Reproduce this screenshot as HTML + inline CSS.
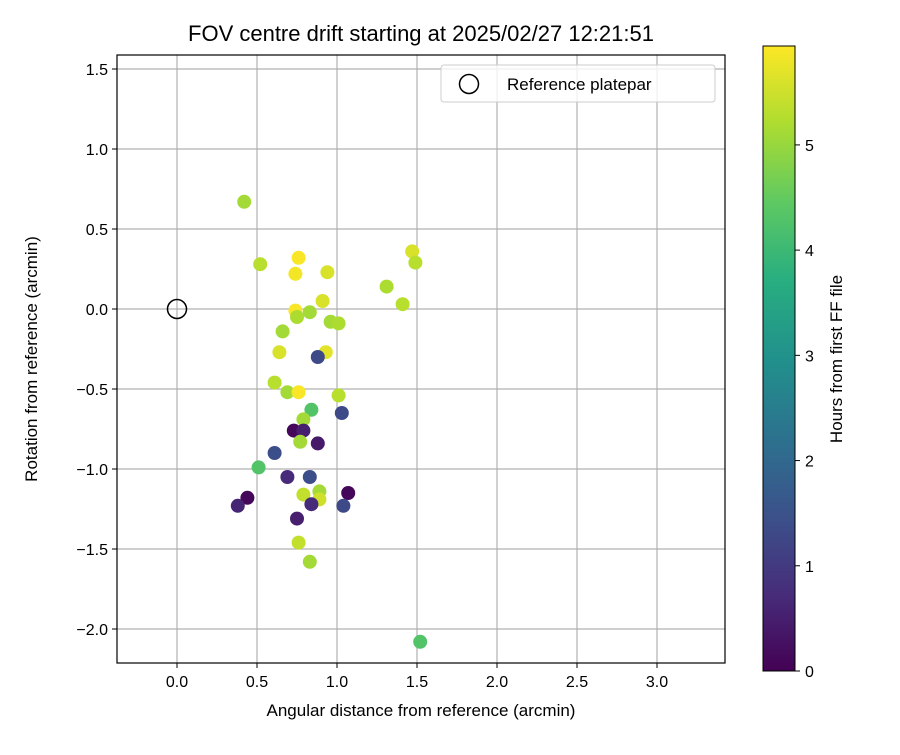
<!DOCTYPE html>
<html><head><meta charset="utf-8"><style>body{margin:0;background:#fff}svg{font-family:"Liberation Sans","DejaVu Sans",sans-serif}</style></head>
<body>
<svg id="chart" width="900" height="750" viewBox="0 0 900 750" xmlns="http://www.w3.org/2000/svg">
<defs>
<linearGradient id="vir" x1="0" y1="1" x2="0" y2="0">
<stop offset="0" stop-color="#440154"/><stop offset="0.125" stop-color="#472d7b"/><stop offset="0.25" stop-color="#3b528b"/><stop offset="0.375" stop-color="#2c728e"/><stop offset="0.5" stop-color="#21918c"/><stop offset="0.625" stop-color="#28ae80"/><stop offset="0.75" stop-color="#5ec962"/><stop offset="0.875" stop-color="#addc30"/><stop offset="1" stop-color="#fde725"/>
</linearGradient>
</defs>
<text x="421" y="41" font-size="22" text-anchor="middle">FOV centre drift starting at 2025/02/27 12:21:51</text>
<g id="grid"></g>
<g id="xticks"></g>
<g id="yticks"></g>
<g id="points"></g>
<circle id="refpt" r="9.5" fill="none" stroke="#000" stroke-width="1.5"/>
<rect x="117" y="55" width="608" height="608" fill="none" stroke="#000" stroke-width="1.2"/>
<text x="421" y="716" font-size="17" text-anchor="middle">Angular distance from reference (arcmin)</text>
<text transform="translate(37,359) rotate(-90)" font-size="17" text-anchor="middle">Rotation from reference (arcmin)</text>
<g>
<rect x="441" y="65" width="274" height="37" rx="3" fill="#fff" fill-opacity="0.8" stroke="#ccc"/>
<circle cx="469" cy="84" r="9.5" fill="none" stroke="#000" stroke-width="1.5"/>
<text x="507" y="90" font-size="17">Reference platepar</text>
</g>
<g>
<rect x="763" y="46" width="32" height="625" fill="url(#vir)" stroke="#000" stroke-width="1"/>
<g id="cbticks"></g>
<text transform="translate(842,359) rotate(-90)" font-size="17" text-anchor="middle">Hours from first FF file</text>
</g>
</svg>
<script>
const xTicks=[0.0,0.5,1.0,1.5,2.0,2.5,3.0];
const yTicks=[1.5,1.0,0.5,0.0,-0.5,-1.0,-1.5,-2.0];
const cbTicks=[0,1,2,3,4,5];
const xVals=[0.42,0.52,0.76,0.74,0.94,0.91,0.74,0.75,0.83,0.96,1.01,0.66,0.64,0.93,0.88,0.61,0.69,0.76,1.01,0.84,1.03,0.79,0.73,0.79,0.77,0.88,0.61,0.51,0.69,0.83,0.44,0.38,0.79,0.89,0.89,0.84,1.07,1.04,0.75,0.76,0.83,1.52,1.31,1.47,1.49,1.41];
const yVals=[0.67,0.28,0.32,0.22,0.23,0.05,-0.01,-0.05,-0.02,-0.08,-0.09,-0.14,-0.27,-0.27,-0.30,-0.46,-0.52,-0.52,-0.54,-0.63,-0.65,-0.69,-0.76,-0.76,-0.83,-0.84,-0.90,-0.99,-1.05,-1.05,-1.18,-1.23,-1.16,-1.14,-1.19,-1.22,-1.15,-1.23,-1.31,-1.46,-1.58,-2.08,0.14,0.36,0.29,0.03];
const hours=[5.1,5.3,5.9,5.85,5.6,5.6,5.9,5.2,5.1,5.1,5.2,5.1,5.6,5.7,1.3,5.3,5.1,5.9,5.3,4.3,1.3,5.1,0.1,0.5,5.1,0.4,1.4,4.3,0.7,1.4,0.1,0.6,5.4,5.1,5.5,0.7,0.1,1.3,0.5,5.4,5.1,4.3,5.2,5.6,5.3,5.3];
const X0=117,X1=725,Y0=55,Y1=663,xmin=-0.375,xmax=3.425,ymin=-2.2125,ymax=1.5875,hmax=5.94;
const sx=v=>X0+(v-xmin)/(xmax-xmin)*(X1-X0);
const sy=v=>Y1-(v-ymin)/(ymax-ymin)*(Y1-Y0);
const cy=h=>671-h/hmax*625;
const vir=["#440154","#472d7b","#3b528b","#2c728e","#21918c","#28ae80","#5ec962","#addc30","#fde725"];
function col(t){t=Math.max(0,Math.min(1,t))*8;const i=Math.min(7,Math.floor(t)),f=t-i;const a=vir[i],b=vir[i+1];
const c=k=>Math.round(parseInt(a.substr(k,2),16)*(1-f)+parseInt(b.substr(k,2),16)*f);return `rgb(${c(1)},${c(3)},${c(5)})`;}
const NS="http://www.w3.org/2000/svg";
function mk(t,at,p){const e=document.createElementNS(NS,t);for(const k in at)e.setAttribute(k,at[k]);p.appendChild(e);return e;}
const g=document.getElementById('grid'),gx=document.getElementById('xticks'),gy=document.getElementById('yticks'),gp=document.getElementById('points'),gc=document.getElementById('cbticks');
xTicks.forEach(v=>{const x=sx(v);
mk('line',{x1:x,x2:x,y1:Y0,y2:Y1,stroke:'#b0b0b0','stroke-width':1.2},g);
mk('line',{x1:x,x2:x,y1:Y1,y2:Y1+5,stroke:'#000'},gx);
const t=mk('text',{x:x,y:Y1+24,'font-size':16,'text-anchor':'middle'},gx);t.textContent=v.toFixed(1);

});
yTicks.forEach(v=>{const y=sy(v);
mk('line',{x1:X0,x2:X1,y1:y,y2:y,stroke:'#b0b0b0','stroke-width':1.2},g);
mk('line',{x1:X0-5,x2:X0,y1:y,y2:y,stroke:'#000'},gy);
const t=mk('text',{x:X0-9,y:y+6,'font-size':16,'text-anchor':'end'},gy);t.textContent=v.toFixed(1).replace('-','\u2212');

});
cbTicks.forEach(v=>{const y=cy(v);
mk('line',{x1:795,x2:800,y1:y,y2:y,stroke:'#000'},gc);
const t=mk('text',{x:805,y:y+6,'font-size':16},gc);t.textContent=v;

});
xVals.forEach((v,i)=>{const c=mk('circle',{cx:sx(v),cy:sy(yVals[i]),r:7,fill:col(hours[i]/hmax)},gp);

});
const r=document.getElementById('refpt');r.setAttribute('cx',sx(0));r.setAttribute('cy',sy(0));
</script>
</body></html>
